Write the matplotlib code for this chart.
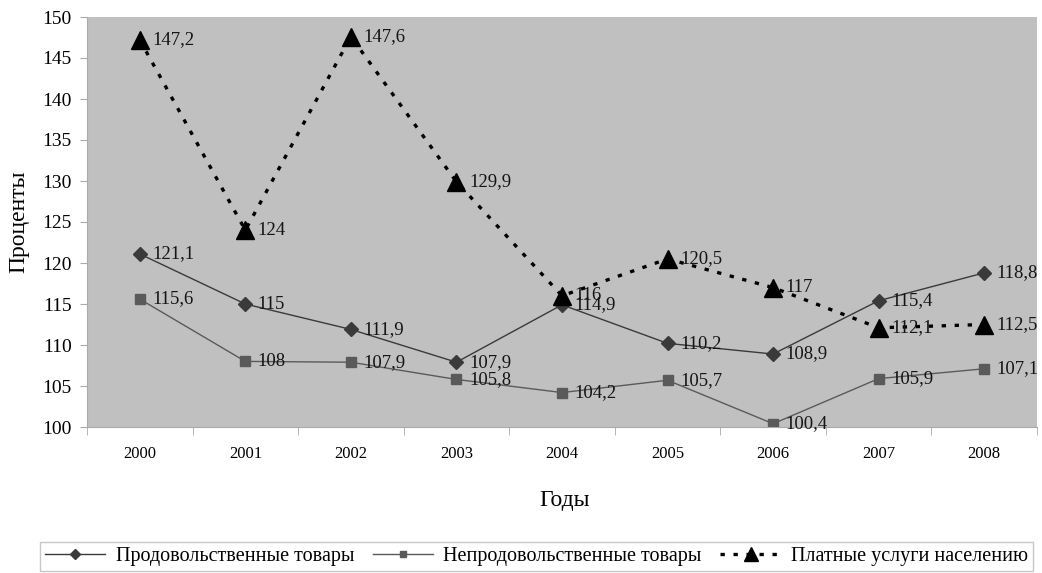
import matplotlib
matplotlib.use("Agg")
import matplotlib.pyplot as plt

years = ["2000", "2001", "2002", "2003", "2004", "2005", "2006", "2007", "2008"]
food = [121.1, 115, 111.9, 107.9, 114.9, 110.2, 108.9, 115.4, 118.8]
nonfood = [115.6, 108, 107.9, 105.8, 104.2, 105.7, 100.4, 105.9, 107.1]
services = [147.2, 124, 147.6, 129.9, 116, 120.5, 117, 112.1, 112.5]
labels = ["Продовольственные товары", "Непродовольственные товары", "Платные услуги населению"]

plt.rcParams['font.family'] = ['Liberation Serif', 'DejaVu Serif']

fig = plt.figure(figsize=(10.42, 5.73), dpi=100)
ax = fig.add_axes([87 / 1042, 1 - 427 / 573, 950 / 1042, 410 / 573])
ax.set_facecolor('#c0c0c0')

x = list(range(len(years)))
l1, = ax.plot(x, food, color='#3a3a3a', lw=1.0, marker='D', ms=7, mfc='#3a3a3a', mec='#3a3a3a')
l2, = ax.plot(x, nonfood, color='#5a5a5a', lw=1.0, marker='s', ms=6.5, mfc='#5a5a5a', mec='#5a5a5a')
l3, = ax.plot(x, services, color='black', lw=2.4, ls=(0, (1.3, 2.6)), marker='^', ms=13,
              mfc='black', mec='black')

def fmt(v):
    return ('%g' % v).replace('.', ',')

for series in (food, nonfood, services):
    for i, v in enumerate(series):
        ax.annotate(fmt(v), (i, v), xytext=(9, 0), textcoords='offset points',
                    va='center', ha='left', fontsize=13.5, color='#151515')

ax.set_xlim(-0.5, len(years) - 0.5)
ax.set_ylim(100, 150)
ax.set_yticks(range(100, 151, 5))
ax.set_xticks(x)
ax.set_xticklabels(years)
ax.set_xticks([i - 0.5 for i in range(len(years) + 1)], minor=True)
ax.tick_params(axis='x', which='major', length=0, labelsize=12, pad=14)
ax.tick_params(axis='x', which='minor', length=6, color='#aaaaaa')
ax.tick_params(axis='y', length=5, color='#aaaaaa', labelsize=14, pad=6)
for s in ('top', 'right'):
    ax.spines[s].set_visible(False)
for s in ('left', 'bottom'):
    ax.spines[s].set_color('#aaaaaa')

ax.set_xlabel('Годы', fontsize=17)
ax.xaxis.set_label_coords((565 - 87) / 950, -(490 - 427) / 410)
ax.set_ylabel('Проценты', fontsize=17, labelpad=9)

leg = fig.legend([l1, l2, l3], labels, loc='upper left',
                 bbox_to_anchor=(40 / 1042, 0, 993 / 1042, 1 - 542 / 573),
                 mode='expand', ncol=3, fontsize=14.5, frameon=True, fancybox=False,
                 edgecolor='#bbbbbb', handlelength=3.0, columnspacing=0.6,
                 handletextpad=0.5, borderpad=0.25, borderaxespad=0, markerscale=0.75)
leg.get_frame().set_linewidth(1.0)

fig.savefig('out.png', dpi=100)
